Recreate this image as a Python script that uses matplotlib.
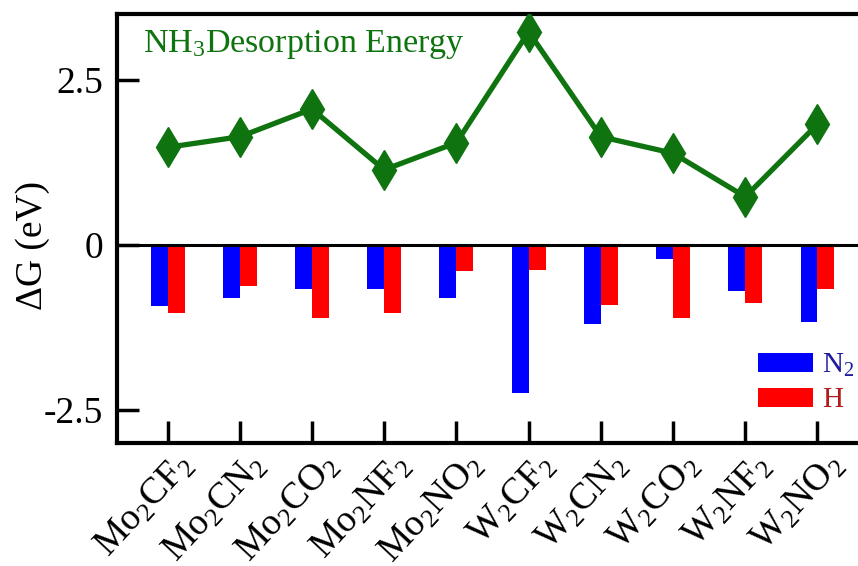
import matplotlib
matplotlib.use("Agg")
import matplotlib.pyplot as plt
import matplotlib.transforms as mtransforms
import numpy as np

# ── data ───────────────────────────────────────────────────────────
materials = ["Mo$_2$CF$_2$", "Mo$_2$CN$_2$", "Mo$_2$CO$_2$", "Mo$_2$NF$_2$", "Mo$_2$NO$_2$",
             "W$_2$CF$_2$", "W$_2$CN$_2$", "W$_2$CO$_2$", "W$_2$NF$_2$", "W$_2$NO$_2$"]
nh3_desorption = [1.48, 1.64, 2.06, 1.14, 1.55, 3.23, 1.64, 1.39, 0.73, 1.83]
dg_n2 = [-0.92, -0.80, -0.67, -0.67, -0.80, -2.24, -1.20, -0.21, -0.70, -1.17]
dg_h = [-1.03, -0.62, -1.10, -1.03, -0.39, -0.38, -0.91, -1.10, -0.88, -0.67]
yticks = [-2.5, 0, 2.5]
ytick_labels = ["-2.5", "0", "2.5"]

GREEN = "#0f730f"

plt.rcParams["font.family"] = ["Liberation Serif", "DejaVu Serif"]
plt.rcParams["mathtext.fontset"] = "custom"
plt.rcParams["mathtext.rm"] = "Liberation Serif"
plt.rcParams["mathtext.default"] = "regular"

fig = plt.figure(figsize=(8.58, 5.66), dpi=100)
ax = fig.add_axes([0.1364, 0.2173, 0.8753, 0.758])

x = np.arange(len(materials))
width = 0.235
ax.bar(x - width / 2, dg_n2, width, color="#0000ff", label="N$_2$")
ax.bar(x + width / 2, dg_h, width, color="#ff0000", label="H")
ax.axhline(0, color="black", linewidth=2.2, zorder=3)

ax.plot(x, nh3_desorption, color=GREEN, linewidth=3.8, marker="d",
        markersize=20, zorder=4)

ax.text(0.0346, 0.911, "NH$_3$Desorption Energy", transform=ax.transAxes,
        color=GREEN, fontsize=24.5, va="baseline", ha="left")

ax.set_xlim(-0.7, 9.7)
ax.set_ylim(-3.0, 3.5)
ax.set_yticks(yticks)
ax.set_yticklabels(ytick_labels)
ax.set_xticks(x)
ax.set_xticklabels(materials, rotation=47, ha="right", va="center",
                   rotation_mode="anchor", fontsize=22.5)

ax.tick_params(axis="both", direction="in", length=16, width=2.5,
               labelsize=27, top=False, right=False)
ax.tick_params(axis="y", pad=10)
ax.tick_params(axis="x", pad=12)
for s in ax.spines.values():
    s.set_linewidth(3)

# nudge the rotated labels so their ends sit right of the ticks, as in the original
shift = mtransforms.ScaledTranslation(15 / 72, 0, fig.dpi_scale_trans)
for lbl in ax.get_xticklabels():
    lbl.set_transform(lbl.get_transform() + shift)

ax.set_ylabel("ΔG (eV)", fontsize=27)
ax.yaxis.set_label_coords(-0.089, 0.4615)

leg = ax.legend(loc="lower left", bbox_to_anchor=(0.8535, 0.069), frameon=False,
                fontsize=21, handlelength=1.9, handleheight=0.62,
                labelspacing=0.3, handletextpad=0.3, borderpad=0,
                borderaxespad=0)
for t, c in zip(leg.get_texts(), ["#1c1c9c", "#b01c1c"]):
    t.set_color(c)

fig.savefig("out.png", dpi=100)
